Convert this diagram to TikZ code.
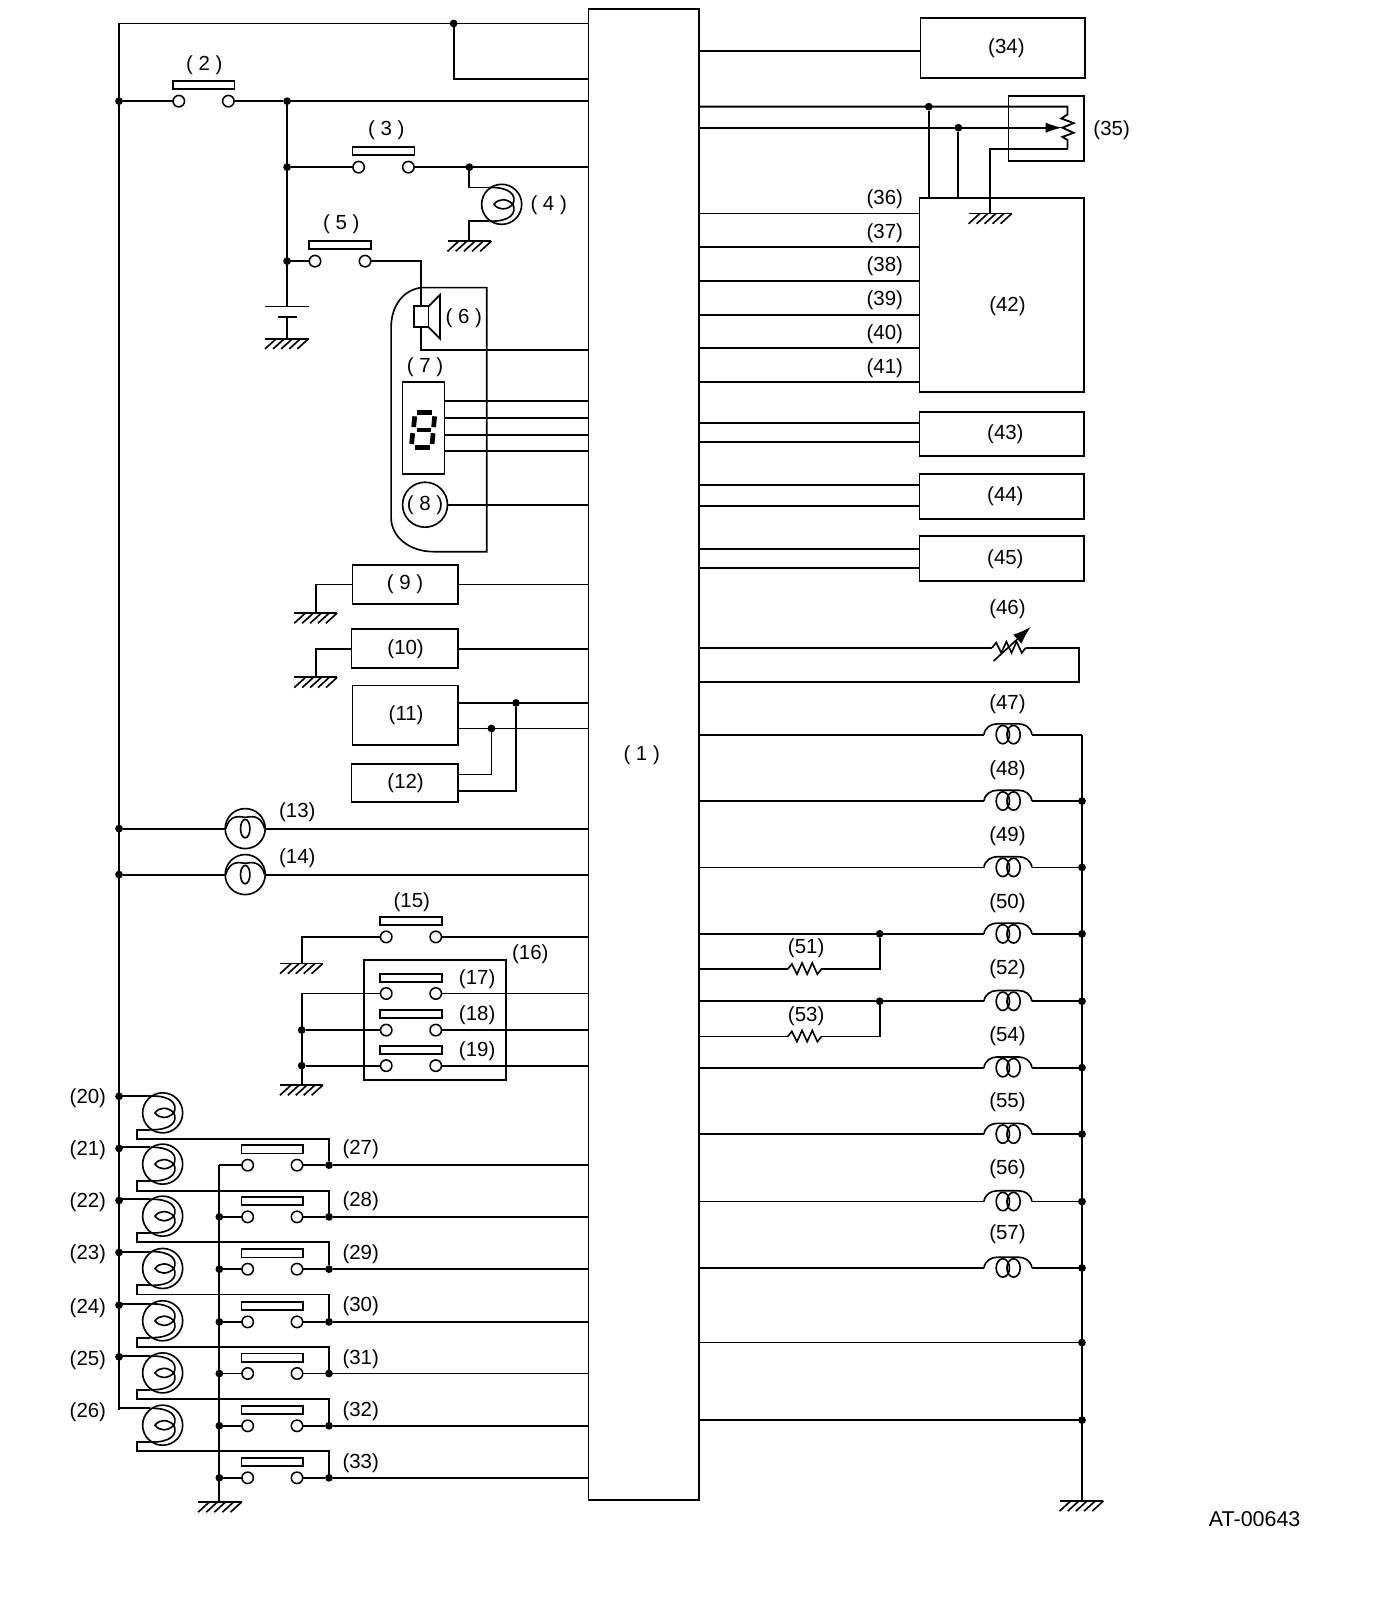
\documentclass[tikz,border=0pt]{standalone}
\usepackage{fontspec}
\setmainfont{Liberation Sans}
\usetikzlibrary{arrows.meta}
\tikzset{
  wire/.style={line width=0.9pt,line join=miter},
  box/.style={draw,line width=0.9pt,rectangle,inner sep=0pt,outer sep=0pt},
  term/.style={draw,circle,fill=white,line width=0.75pt,inner sep=0pt,outer sep=0pt,minimum size=5.6pt},
  jn/.style={fill=black,circle,inner sep=0pt,outer sep=0pt,minimum size=3.8pt},
  swbar/.style={draw,rectangle,line width=0.9pt,inner sep=0pt,outer sep=0pt,minimum height=4pt},
  lampc/.style={draw,circle,line width=0.8pt,inner sep=0pt,outer sep=0pt,minimum size=19.6pt},
  lab/.style={inner sep=0pt,yshift=-0.5pt,font=\fontsize{10}{12}\selectfont},
}
\newcommand{\bx}[6]{\node[box,minimum width={(#4-#2)*0.5pt},minimum height={(#5-#3)*0.5pt},font=\fontsize{10}{12}\selectfont] (#1) at ({(#2+#4)/2},{(#3+#5)/2}) {#6};}
\newcommand{\swt}[4]{\node[term] (#1l) at (#2,#4) {}; \node[term] (#1r) at (#3,#4) {};
  \node[swbar,minimum width={(#3-#2+12)*0.5pt}] (#1b) at ({(#2+#3)/2},{#4-15.5}) {};}
\newcommand{\gnd}[4]{\draw[wire] (#2,#4) -- (#3,#4);
  \foreach \gi in {0,1,2,3,4} {\draw[line width=0.8pt] ({#2+11+\gi*(#3-#2-11)/4},#4) -- ++(-11,10);}}
\newcommand{\lamp}[3]{\node[lampc] (#1) at (#2,#3) {};
  \coordinate (#1t) at ({#2-12},{#3-16.5}); \coordinate (#1u) at ({#2-12},{#3+16.5});
  \begin{scope}[shift={(#2,#3)}]
  \draw[line width=0.8pt] (-12,-16.5) .. controls (8,-17) and (15,-9) .. (11,0)
     .. controls (5,-6) and (-3,-6) .. (-7.5,0) .. controls (-3,6) and (5,6) .. (11,0)
     .. controls (15,9) and (8,17) .. (-12,16.5);
  \end{scope}}
\newcommand{\hlamp}[3]{\node[lampc] (#1) at (#2,#3) {};
  \begin{scope}[shift={(#2,#3)}]
  \draw[line width=0.8pt] (-19,0) .. controls (-15,-14) and (-6,-12) .. (0,-11) .. controls (6,-12) and (15,-14) .. (19,0);
  \draw[line width=0.8pt] (0,0) ellipse [x radius=4.6,y radius=9];
  \end{scope}}
\newcommand{\coil}[2]{\coordinate (#1l) at (963,#2); \coordinate (#1r) at (1010,#2);
  \begin{scope}[shift={(986,#2)}]
  \draw[line width=0.8pt] (-23,0) .. controls (-22,-7) and (-16,-10.5) .. (-10,-10.5) -- (11,-10.5) .. controls (17,-10.5) and (23,-7) .. (24,0);
  \draw[line width=0.8pt] (-4.5,0) ellipse [x radius=6.5,y radius=9];
  \draw[line width=0.8pt] (6,0) ellipse [x radius=6.5,y radius=9];
  \end{scope}}
\newcommand{\zig}[3]{\coordinate (#1l) at (#2,#3); \coordinate (#1r) at ({#2+33},#3);
  \draw[line width=0.8pt] (#2,#3) -- ++(4,-5) -- ++(5,10) -- ++(5,-11) -- ++(5,11) -- ++(5,-11) -- ++(5,11) -- ++(4,-5);}
\begin{document}
\begin{tikzpicture}[x=0.5pt,y=-0.5pt]
\useasboundingbox (0,0) rectangle (1347,1566);
\fill[white] (0,0) rectangle (1347,1566);
% main unit
\bx{m}{576}{9}{684.5}{1468.5}{( 1 )\kern2.2pt}
% top rail
\coordinate (railtop) at (116.5,23);
\node[jn] (jt) at (444,23) {};
\draw[wire] (railtop) -- (m.west |- railtop);
\draw[wire] (jt) -- (jt |- 0,77) -- (m.west |- 0,77);
% switch 2
\node[jn] (j2a) at (116.5,99) {};
\node[jn] (j2b) at (281,99) {};
\swt{s2}{175}{223.5}{99}
\draw[wire] (j2a) -- (s2l); \draw[wire] (s2r) -- (j2b) -- (m.west |- j2b);
\node[lab] (l2) at (200,63) {( 2 )};
% switch 3, lamp 4
\node[jn] (j3a) at (281,163.6) {};
\node[jn] (j3b) at (459.4,163.6) {};
\swt{s3}{351}{399.7}{163.6}
\draw[wire] (j3a) -- (s3l); \draw[wire] (s3r) -- (j3b) -- (m.west |- j3b);
\node[lab] (l3) at (378,126) {( 3 )};
\lamp{la4}{491}{200}
\draw[wire] (j3b) -- (j3b |- la4t) -- (la4t);
\coordinate (g4w) at (459.4,236);
\draw[wire] (la4u) -- (la4u -| g4w) -- (g4w);
\gnd{g4}{438}{481}{236}
\node[lab] (l4) at (537,200) {( 4 )};
% switch 5
\node[jn] (j5) at (281,255.6) {};
\swt{s5}{308.3}{357.3}{255.6}
\draw[wire] (j5) -- (s5l);
\node[lab] (l5) at (334,218) {( 5 )};
% battery
\coordinate (bt) at (281,300); \coordinate (bb) at (281,310); \coordinate (bg) at (281,331.5);
\draw[wire] (j2b) -- (bt);
\draw[wire] (259.4,300) -- (302,300);
\draw[wire] (272.4,310) -- (290.4,310);
\draw[wire] (bb) -- (bg);
\gnd{gb}{259.4}{302}{331.5}
% enclosure 6,7,8
\draw[line width=0.8pt] (413,281.5) .. controls (396,283) and (383,298) .. (382.8,320) -- (382.8,507)
   .. controls (383,525) and (400,540) .. (425,540) -- (476.4,540) -- (476.4,281.5) -- cycle;
% speaker
\node[box,minimum width=7.2pt,minimum height=10.2pt] (spk) at (412.2,310) {};
\draw[wire] (spk.north east) -- (430.7,288.5) -- (430.7,331.5) -- (spk.south east);
\draw[wire] (s5r) -- (s5r -| spk.north) -- (spk.north);
\draw[wire] (spk.south) -- (spk.south |- 0,342.6) -- (m.west |- 0,342.6);
\node[lab] (l6) at (454,310) {( 6 )};
\node[lab] (l7) at (416,358) {( 7 )};
% display
\node[box,minimum width=20.5pt,minimum height=45pt] (d7) at (414.5,419) {};
\foreach \yy in {392.7,409,425.5,441.6} {\draw[wire] (d7.east |- 0,\yy) -- (m.west |- 0,\yy);}
\begin{scope}[shift={(414.4,421)},line width=2.3pt]
 \draw (-6,-17) -- (8.5,-17);
 \draw (-8.5,-13.5) -- (-9.5,-3);
 \draw (11,-13.5) -- (10,-3);
 \draw (-6.5,0) -- (7,0);
 \draw (-10.5,3) -- (-11.5,13.5);
 \draw (9.5,3) -- (8.5,13.5);
 \draw (-8.5,17) -- (6,17);
\end{scope}
\node[draw,circle,line width=0.8pt,inner sep=0pt,minimum size=22pt,font=\fontsize{10}{12}\selectfont] (n8) at (416,494) {( 8 )};
\draw[wire] (n8) -- (m.west |- n8);
% 9, 10
\bx{b9}{345}{553}{448}{591}{( 9 )}
\draw[wire] (b9) -- (m.west |- b9);
\coordinate (g9w) at (309,600);
\draw[wire] (b9.west) -- (b9.west -| g9w) -- (g9w);
\gnd{g9}{288}{330}{600}
\bx{b10}{344}{616}{448}{654}{\kern1pt(10)}
\draw[wire] (b10) -- (m.west |- b10);
\coordinate (g10w) at (309,663);
\draw[wire] (b10.west) -- (b10.west -| g10w) -- (g10w);
\gnd{g10}{288}{330}{663}
% 11, 12
\bx{b11}{345}{671}{448}{729}{\kern1pt(11)}
\bx{b12}{344}{748}{448}{785}{\kern1pt(12)}
\node[jn] (j11a) at (505,688) {};
\node[jn] (j11b) at (481,713) {};
\draw[wire] (b11.east |- j11a) -- (m.west |- j11a);
\draw[wire] (b11.east |- j11b) -- (m.west |- j11b);
\draw[wire] (b12.east |- 0,758) -- (j11b |- 0,758) -- (j11b);
\draw[wire] (b12.east |- 0,774) -- (j11a |- 0,774) -- (j11a);
% 13, 14
\hlamp{la13}{240}{811}
\hlamp{la14}{240}{856}
\node[jn] (j13) at (116.5,811) {};
\node[jn] (j14) at (116.5,856) {};
\draw[wire] (j13) -- (la13); \draw[wire] (la13) -- (m.west |- la13);
\draw[wire] (j14) -- (la14); \draw[wire] (la14) -- (m.west |- la14);
\node[lab] (l13) at (291,794) {(13)};
\node[lab] (l14) at (291,839) {(14)};
% 15-19
\swt{s15}{378}{426.5}{917}
\coordinate (g15w) at (295.3,943);
\draw[wire] (s15l) -- (s15l -| g15w) -- (g15w);
\draw[wire] (s15r) -- (m.west |- s15r);
\gnd{g15}{274}{316}{943}
\node[lab] (l15) at (403,882) {(15)};
\node[box,minimum width=69.4pt,minimum height=58.7pt] (e16) at (426,998.3) {};
\node[lab] (l16) at (519,933) {(16)};
\swt{s17}{378}{426.5}{972.4}
\swt{s18}{378}{426.5}{1008.2}
\swt{s19}{378}{426.5}{1043}
\node[jn] (j18) at (295.3,1008.2) {};
\node[jn] (j19) at (295.3,1043) {};
\coordinate (g17w) at (295.3,1062);
\draw[wire] (s17l) -- (s17l -| g17w) -- (g17w);
\draw[wire] (j18) -- (s18l); \draw[wire] (j19) -- (s19l);
\draw[wire] (s17r) -- (m.west |- s17r);
\draw[wire] (s18r) -- (m.west |- s18r);
\draw[wire] (s19r) -- (m.west |- s19r);
\gnd{g17}{274}{316}{1062}
\node[lab] (l17) at (467,957) {(17)};
\node[lab] (l18) at (467,993) {(18)};
\node[lab] (l19) at (467,1028) {(19)};
% left rail
\coordinate (railbot) at (116.5,1380);
% lamps 20-26 and switches 27-33
\coordinate (busl) at (214.7,1140.4);
\coordinate (busr) at (322,1140.4);
\foreach \n/\cy/\jy/\sy/\ry/\sn/\lny/\rly in {
 20/1089.2/1073/1140.4/1114.6/27/1074/1124,
 21/1139.4/1124/1191/1165.3/28/1125/1175,
 22/1190.3/1175/1242.2/1216/29/1176/1227,
 23/1241.5/1225.8/1293.8/1267/30/1227/1277,
 24/1292.7/1277.4/1344.3/1318/31/1279/1329,
 25/1343.7/1328/1395.5/1369/32/1330/1380,
 26/1394.9/1380/1446.4/1420.3/33/1381/1431} {
  \lamp{lp\n}{159.2}{\cy}
  \swt{s\sn}{242.4}{290.7}{\sy}
  \node[jn] (jr\sn) at (322,\sy) {};
  \draw[wire] (railbot |- lp\n t) -- (lp\n t);
  \draw[wire] (lp\n u) -- (134.4,{\cy+16.5}) -- (134.4,\ry) -- (322,\ry) -- (jr\sn);
  \draw[wire] (s\sn r) -- (jr\sn) -- (m.west |- jr\sn);
  \draw[wire] (busl |- s\sn l) -- (s\sn l);
  \node[lab] (l\n) at (86,\lny) {(\n)};
  \node[lab] (l\sn) at (353,\rly) {(\sn)};
}
\foreach \yy in {1191,1242.2,1293.8,1344.3,1395.5,1446.4} {\node[jn] at (214.7,\yy) {};}
\foreach \yy in {1073,1124,1175,1225.8,1277.4,1328} {\node[jn] at (116.5,\yy) {};}
\draw[wire] (railtop) -- (railbot);
\coordinate (gbusw) at (214.7,1470);
\draw[wire] (busl) -- (gbusw);
\gnd{gbus}{194}{236.6}{1470}
% right side: 34
\bx{b34}{901}{18}{1062}{76}{\kern3.5pt (34)}
\draw[wire] (m.east |- 0,50) -- (b34.west |- 0,50);
% 42
\bx{b42}{900}{193.5}{1061}{384}{\kern5.5pt\rule{0pt}{18pt}(42)}
\node[box,minimum width=37pt,minimum height=31.8pt] (b35) at (1024,125.5) {};
\node[lab] (l35) at (1088,126) {(35)};
\node[jn] (j35a) at (909,104.4) {};
\node[jn] (j35b) at (938,125) {};
\coordinate (rt) at (1044.8,104.4); \coordinate (rb) at (1044.8,146);
\draw[wire] (m.east |- j35a) -- (rt) -- (1044.8,112) -- ++(-6,4) -- ++(12,4.5) -- ++(-11,4.5) -- ++(11,5) -- ++(-11,4) -- ++(5,3) -- (rb);
\draw[wire] (m.east |- j35b) -- (1020,125);
\draw[-{Latex[length=8pt,width=5pt]},line width=0.8pt] (1015,125) -- (1039.5,125);
\coordinate (g35w) at (969,209);
\draw[wire] (rb) -- (rb -| g35w) -- (g35w);
\draw[wire] (j35a) -- (j35a |- b42.north);
\draw[wire] (j35b) -- (j35b |- b42.north);
\gnd{g35}{948}{990.3}{209}
\foreach \n/\yy/\ly in {36/209/194,37/242/227,38/275/260,39/308/293,40/341/326,41/374/359} {
  \draw[wire] (m.east |- 0,\yy) -- (b42.west |- 0,\yy);
  \node[lab] (l\n) at (866,\ly) {(\n)};
}
% 43-45
\bx{b43}{900}{403}{1061}{446}{\kern3.5pt (43)}
\draw[wire] (m.east |- 0,414) -- (b43.west |- 0,414);
\draw[wire] (m.east |- 0,433) -- (b43.west |- 0,433);
\bx{b44}{900}{464}{1061}{508}{\kern3.5pt (44)}
\draw[wire] (m.east |- 0,475) -- (b44.west |- 0,475);
\draw[wire] (m.east |- 0,495) -- (b44.west |- 0,495);
\bx{b45}{900}{525}{1061}{569}{\kern3.5pt (45)}
\draw[wire] (m.east |- 0,537) -- (b45.west |- 0,537);
\draw[wire] (m.east |- 0,556) -- (b45.west |- 0,556);
% 46
\zig{z46}{971}{634}
\node[lab] (l46) at (986,595) {(46)};
\coordinate (c46) at (1056.2,634); \coordinate (d46) at (1056.2,667.6);
\draw[wire] (m.east |- z46l) -- (z46l);
\draw[wire] (z46r) -- (c46) -- (d46) -- (m.east |- d46);
\draw[-{Latex[length=9pt,width=6pt]},line width=0.8pt] (972.4,647) -- (1009,613.4);
% coils
\coordinate (rr) at (1059,719);
\coordinate (rrb) at (1059,1469);
\draw[wire] (rr) -- (rrb);
\gnd{grr}{1037}{1080}{1469}
\foreach \n/\yy/\ly in {47/719/688,48/784/753,49/849/817,50/914/883,52/980/948,54/1045/1013,55/1110/1078,56/1176/1143,57/1241/1207} {
  \coil{c\n}{\yy}
  \draw[wire] (m.east |- c\n l) -- (c\n l);
  \draw[wire] (c\n r) -- (c\n r -| rr);
  \node[lab] (l\n) at (986,\ly) {(\n)};
}
\foreach \yy in {784,849,914,980,1045,1110,1176,1241,1314,1390} {\node[jn] at (1059,\yy) {};}
\draw[wire] (m.east |- 0,1314) -- (rr |- 0,1314);
\draw[wire] (m.east |- 0,1390) -- (rr |- 0,1390);
% 51, 53
\node[jn] (j51) at (861,914) {};
\node[jn] (j53) at (861,980) {};
\zig{z51}{771}{948.5}
\zig{z53}{771}{1014.5}
\draw[wire] (m.east |- z51l) -- (z51l);
\draw[wire] (z51r) -- (j51 |- z51r) -- (j51);
\draw[wire] (m.east |- z53l) -- (z53l);
\draw[wire] (z53r) -- (j53 |- z53r) -- (j53);
\node[lab] (l51) at (789,927) {(51)};
\node[lab] (l53) at (789,994) {(53)};
% code
\node[inner sep=0pt,font=\fontsize{10.5}{12}\selectfont] (code) at (1228,1486.5) {AT-00643};
\end{tikzpicture}
\end{document}
